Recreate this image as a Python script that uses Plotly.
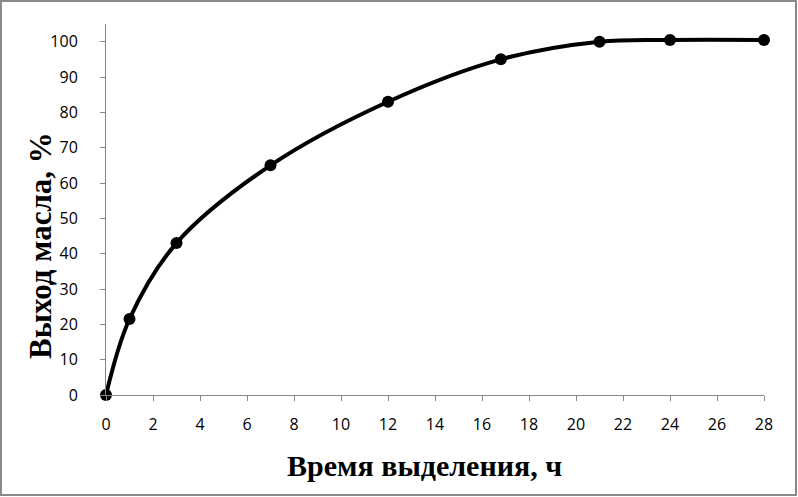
import plotly.graph_objects as go

hours = [0, 1, 3, 7, 12, 16.8, 21, 24, 28]
oil_yield = [0, 21.5, 43, 65, 83, 95, 100, 100.5, 100.5]

x_title = "Время выделения, ч"
y_title = "Выход масла, %"

W, H = 798, 497
ml, mr, mt, mb = 106, 34, 24, 102
pw, ph = W - ml - mr, H - mt - mb

fig = go.Figure()
fig.add_trace(go.Scatter(
    x=hours, y=oil_yield, mode="lines+markers",
    line=dict(color="black", width=4, shape="spline", smoothing=1),
    marker=dict(color="black", size=12),
    cliponaxis=False,
    showlegend=False,
))

axis_common = dict(
    showgrid=False, zeroline=False, showline=True, linecolor="#868686", linewidth=1,
    ticks="outside", ticklen=5, tickcolor="#868686",
    tickfont=dict(family="Open Sans", size=16, color="black"),
)

fig.update_xaxes(range=[0, 28], dtick=2, tick0=0, ticklabelstandoff=10, **axis_common)
fig.update_yaxes(range=[0, 105], dtick=10, tick0=0, ticklabelstandoff=19, **axis_common)

fig.add_annotation(text="<b>" + x_title + "</b>", xref="paper", yref="paper",
                   x=(424.5 - ml) / pw, y=(H - mb - 465) / ph,
                   xanchor="center", yanchor="middle", showarrow=False,
                   font=dict(family="Liberation Serif", size=30, color="black"))
fig.add_annotation(text="<b>" + y_title + "</b>", xref="paper", yref="paper",
                   x=(40 - ml) / pw, y=(H - mb - 246) / ph, textangle=-90,
                   xanchor="center", yanchor="middle", showarrow=False,
                   font=dict(family="Liberation Serif", size=31, color="black"))

fig.add_shape(type="rect", xref="paper", yref="paper",
              x0=(1 - ml) / pw, x1=(W - 2 - ml) / pw,
              y0=(H - mb - (H - 2)) / ph, y1=(H - mb - 1) / ph,
              line=dict(color="#8a8a8a", width=2), layer="below")

fig.update_layout(
    width=W, height=H,
    margin=dict(l=ml, r=mr, t=mt, b=mb, autoexpand=False),
    paper_bgcolor="white", plot_bgcolor="white",
    font=dict(family="Open Sans", color="black"),
)
fig.write_html("out.html", config={"displayModeBar": False},
               post_script="document.body.style.margin='0';document.body.style.padding='0';")
